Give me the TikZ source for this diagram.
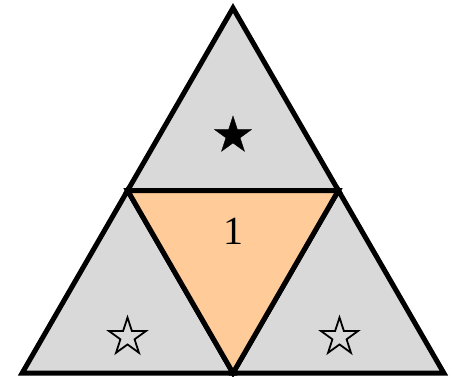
\documentclass[tikz,border=0pt]{standalone}
\usepackage{fontspec}
\setmainfont{Liberation Serif}
\usepackage{tikz}
\usetikzlibrary{shapes.geometric,positioning}
\definecolor{cellgray}{RGB}{217,217,217}
\definecolor{cellorange}{RGB}{255,204,153}
\tikzset{
  cell/.style={draw=black,line width=5pt,line join=miter},
  starmark/.style={star,star points=5,star point ratio=2.618,minimum size=39pt,inner sep=0pt,draw=black},
}
\begin{document}
\begin{tikzpicture}[x=1pt,y=1pt]
  \useasboundingbox (0,0) rectangle (454,376);
  % corners and midpoints
  \coordinate (top) at (233,368);
  \coordinate (bl) at (22.2,3);
  \coordinate (br) at (443.8,3);
  \coordinate (ml) at (127.6,185.5);
  \coordinate (mr) at (338.4,185.5);
  \coordinate (mb) at (233,3);
  % cells
  \filldraw[cell,fill=cellgray] (top) -- (ml) -- (mr) -- cycle;
  \filldraw[cell,fill=cellgray] (ml) -- (bl) -- (mb) -- cycle;
  \filldraw[cell,fill=cellgray] (mr) -- (mb) -- (br) -- cycle;
  \filldraw[cell,fill=cellorange] (ml) -- (mr) -- (mb) -- cycle;
  % labels
  \node[starmark,fill=black] (s1) at (233,240.5) {};
  \node[starmark,line width=1.8pt,fill=none] (s2) at (127.5,39) {};
  \node[starmark,line width=1.8pt,fill=none] (s3) at (339.5,39) {};
  \node[font=\fontsize{40}{40}\selectfont] (one) at (233,145) {1};
\end{tikzpicture}
\end{document}
